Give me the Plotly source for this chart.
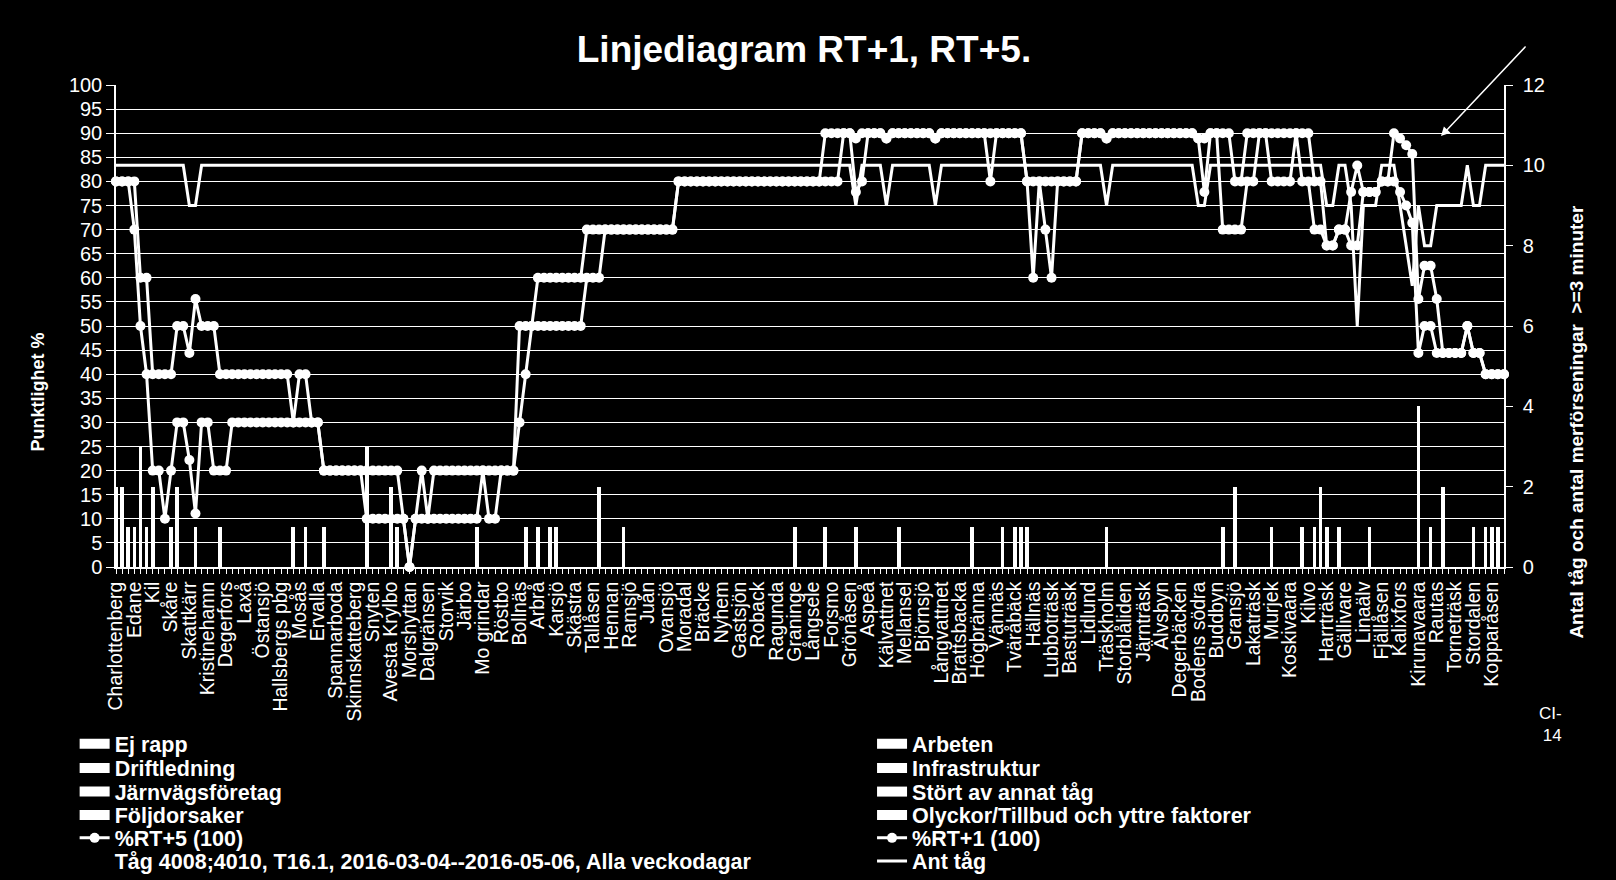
import plotly.graph_objects as go

# Stations shown on the x axis (every third measuring point is labelled)
STATIONS = [
    "Charlottenberg", "Edane", "Kil", "Skåre", "Skattkärr", "Kristinehamn", "Degerfors", "Laxå",
    "Östansjö", "Hallsbergs pbg", "Mosås", "Ervalla", "Spannarboda", "Skinnskatteberg", "Snyten",
    "Avesta Krylbo", "Morshyttan", "Dalgränsen", "Storvik", "Järbo", "Mo grindar", "Röstbo",
    "Bollnäs", "Arbrå", "Karsjö", "Skästra", "Tallåsen", "Hennan", "Ramsjö", "Juån", "Ovansjö",
    "Moradal", "Bräcke", "Nyhem", "Gastsjön", "Roback", "Ragunda", "Graninge", "Långsele",
    "Forsmo", "Grönåsen", "Aspeå", "Kälvattnet", "Mellansel", "Björnsjö", "Långvattnet",
    "Brattsbacka", "Högbränna", "Vännäs", "Tväråbäck", "Hällnäs", "Lubboträsk", "Bastuträsk",
    "Lidlund", "Träskholm", "Storblåliden", "Järnträsk", "Älvsbyn", "Degerbäcken", "Bodens södra",
    "Buddbyn", "Gransjö", "Lakaträsk", "Murjek", "Koskivaara", "Kilvo", "Harrträsk", "Gällivare",
    "Linaälv", "Fjällåsen", "Kalixfors", "Kirunavaara", "Rautas", "Torneträsk", "Stordalen",
    "Kopparåsen",
]
LABEL_STEP = 3

# %RT+5 (100)
RT5 = [
    80, 80, 80, 80, 60, 60, 40, 40, 40, 40,
    50, 50, 44.4, 55.6, 50, 50, 50, 40, 40, 40,
    40, 40, 40, 40, 40, 40, 40, 40, 40, 30,
    40, 40, 30, 30, 20, 20, 20, 20, 20, 20,
    20, 20, 20, 20, 20, 20, 20, 10, 0, 10,
    20, 10, 20, 20, 20, 20, 20, 20, 20, 20,
    20, 20, 20, 20, 20, 20, 50, 50, 50, 60,
    60, 60, 60, 60, 60, 60, 60, 70, 70, 70,
    70, 70, 70, 70, 70, 70, 70, 70, 70, 70,
    70, 70, 80, 80, 80, 80, 80, 80, 80, 80,
    80, 80, 80, 80, 80, 80, 80, 80, 80, 80,
    80, 80, 80, 80, 80, 80, 90, 90, 90, 90,
    90, 88.9, 90, 90, 90, 90, 88.9, 90, 90, 90,
    90, 90, 90, 90, 88.9, 90, 90, 90, 90, 90,
    90, 90, 90, 90, 90, 90, 90, 90, 90, 80,
    80, 80, 80, 80, 80, 80, 80, 80, 90, 90,
    90, 90, 88.9, 90, 90, 90, 90, 90, 90, 90,
    90, 90, 90, 90, 90, 90, 90, 88.9, 88.9, 90,
    90, 90, 90, 80, 80, 90, 90, 90, 90, 90,
    90, 90, 90, 90, 90, 90, 80, 80, 66.7, 66.7,
    70, 70, 77.8, 83.3, 77.8, 77.8, 77.8, 80, 80, 90,
    88.9, 87.5, 85.7, 55.6, 62.5, 62.5, 55.6, 44.4, 44.4, 44.4,
    44.4, 50, 44.4, 44.4, 40, 40, 40, 40,
]

# %RT+1 (100)
RT1 = [
    80, 80, 80, 70, 50, 40, 20, 20, 10, 20,
    30, 30, 22.2, 11.1, 30, 30, 20, 20, 20, 30,
    30, 30, 30, 30, 30, 30, 30, 30, 30, 30,
    30, 30, 30, 30, 20, 20, 20, 20, 20, 20,
    20, 10, 10, 10, 10, 10, 10, 10, 0, 10,
    10, 10, 10, 10, 10, 10, 10, 10, 10, 10,
    20, 10, 10, 20, 20, 20, 30, 40, 50, 50,
    50, 50, 50, 50, 50, 50, 50, 60, 60, 60,
    70, 70, 70, 70, 70, 70, 70, 70, 70, 70,
    70, 70, 80, 80, 80, 80, 80, 80, 80, 80,
    80, 80, 80, 80, 80, 80, 80, 80, 80, 80,
    80, 80, 80, 80, 80, 80, 80, 80, 80, 90,
    90, 77.8, 80, 90, 90, 90, 88.9, 90, 90, 90,
    90, 90, 90, 90, 88.9, 90, 90, 90, 90, 90,
    90, 90, 90, 80, 90, 90, 90, 90, 90, 80,
    60, 80, 70, 60, 80, 80, 80, 80, 90, 90,
    90, 90, 88.9, 90, 90, 90, 90, 90, 90, 90,
    90, 90, 90, 90, 90, 90, 90, 88.9, 77.8, 90,
    90, 70, 70, 70, 70, 80, 80, 90, 90, 80,
    80, 80, 80, 90, 80, 80, 70, 70, 66.7, 66.7,
    70, 70, 66.7, 66.7, 77.8, 77.8, 77.8, 80, 80, 80,
    77.8, 75, 71.4, 44.4, 50, 50, 44.4, 44.4, 44.4, 44.4,
    44.4, 50, 44.4, 44.4, 40, 40, 40, 40,
]

# Ant tåg
ANT_TAG = [
    10, 10, 10, 10, 10, 10, 10, 10, 10, 10,
    10, 10, 9, 9, 10, 10, 10, 10, 10, 10,
    10, 10, 10, 10, 10, 10, 10, 10, 10, 10,
    10, 10, 10, 10, 10, 10, 10, 10, 10, 10,
    10, 10, 10, 10, 10, 10, 10, 10, 10, 10,
    10, 10, 10, 10, 10, 10, 10, 10, 10, 10,
    10, 10, 10, 10, 10, 10, 10, 10, 10, 10,
    10, 10, 10, 10, 10, 10, 10, 10, 10, 10,
    10, 10, 10, 10, 10, 10, 10, 10, 10, 10,
    10, 10, 10, 10, 10, 10, 10, 10, 10, 10,
    10, 10, 10, 10, 10, 10, 10, 10, 10, 10,
    10, 10, 10, 10, 10, 10, 10, 10, 10, 10,
    10, 9, 10, 10, 10, 10, 9, 10, 10, 10,
    10, 10, 10, 10, 9, 10, 10, 10, 10, 10,
    10, 10, 10, 10, 10, 10, 10, 10, 10, 10,
    10, 10, 10, 10, 10, 10, 10, 10, 10, 10,
    10, 10, 9, 10, 10, 10, 10, 10, 10, 10,
    10, 10, 10, 10, 10, 10, 10, 9, 9, 10,
    10, 10, 10, 10, 10, 10, 10, 10, 10, 10,
    10, 10, 10, 10, 10, 10, 10, 10, 9, 9,
    10, 10, 9, 6, 9, 9, 9, 10, 10, 10,
    9, 8, 7, 9, 8, 8, 9, 9, 9, 9,
    9, 10, 9, 9, 10, 10, 10, 10,
]

# Antal merförseningar >=3 minuter per orsak (all drawn white in the original)
JARNVAGSFORETAG = [
    1, 1, 1, 1, 1, 1, 1, 0, 0, 1,
    1, 0, 0, 1, 0, 0, 0, 1, 0, 0,
    0, 0, 0, 0, 0, 0, 0, 0, 0, 1,
    0, 1, 0, 0, 1, 0, 0, 0, 0, 0,
    0, 1, 0, 0, 0, 1, 1, 0, 0, 0,
    0, 0, 0, 0, 0, 0, 0, 0, 0, 1,
    0, 0, 0, 0, 0, 0, 0, 1, 0, 1,
    0, 1, 1, 0, 0, 0, 0, 0, 0, 1,
    0, 0, 0, 1, 0, 0, 0, 0, 0, 0,
    0, 0, 0, 0, 0, 0, 0, 0, 0, 0,
    0, 0, 0, 0, 0, 0, 0, 0, 0, 0,
    0, 1, 0, 0, 0, 0, 1, 0, 0, 0,
    0, 1, 0, 0, 0, 0, 0, 0, 1, 0,
    0, 0, 0, 0, 0, 0, 0, 0, 0, 0,
    1, 0, 0, 0, 0, 1, 0, 1, 1, 1,
    0, 0, 0, 0, 0, 0, 0, 0, 0, 0,
    0, 0, 1, 0, 0, 0, 0, 0, 0, 0,
    0, 0, 0, 0, 0, 0, 0, 0, 0, 0,
    0, 1, 0, 1, 0, 0, 0, 0, 0, 1,
    0, 0, 0, 0, 1, 0, 1, 1, 1, 0,
    1, 0, 0, 0, 0, 1, 0, 0, 0, 0,
    0, 0, 0, 1, 0, 1, 0, 1, 0, 0,
    0, 0, 1, 0, 1, 1, 1, 0,
]
FOLJDORSAKER = [
    1, 1, 0, 0, 1, 0, 1, 0, 0, 0,
    1, 0, 0, 0, 0, 0, 0, 0, 0, 0,
    0, 0, 0, 0, 0, 0, 0, 0, 0, 0,
    0, 0, 0, 0, 0, 0, 0, 0, 0, 0,
    0, 1, 0, 0, 0, 1, 0, 0, 0, 0,
    0, 0, 0, 0, 0, 0, 0, 0, 0, 0,
    0, 0, 0, 0, 0, 0, 0, 0, 0, 0,
    0, 0, 0, 0, 0, 0, 0, 0, 0, 1,
    0, 0, 0, 0, 0, 0, 0, 0, 0, 0,
    0, 0, 0, 0, 0, 0, 0, 0, 0, 0,
    0, 0, 0, 0, 0, 0, 0, 0, 0, 0,
    0, 0, 0, 0, 0, 0, 0, 0, 0, 0,
    0, 0, 0, 0, 0, 0, 0, 0, 0, 0,
    0, 0, 0, 0, 0, 0, 0, 0, 0, 0,
    0, 0, 0, 0, 0, 0, 0, 0, 0, 0,
    0, 0, 0, 0, 0, 0, 0, 0, 0, 0,
    0, 0, 0, 0, 0, 0, 0, 0, 0, 0,
    0, 0, 0, 0, 0, 0, 0, 0, 0, 0,
    0, 0, 0, 1, 0, 0, 0, 0, 0, 0,
    0, 0, 0, 0, 0, 0, 0, 1, 0, 0,
    0, 0, 0, 0, 0, 0, 0, 0, 0, 0,
    0, 0, 0, 2, 0, 0, 0, 1, 0, 0,
    0, 0, 0, 0, 0, 0, 0, 0,
]
INFRASTRUKTUR = [
    0, 0, 0, 0, 1, 0, 0, 0, 0, 0,
    0, 0, 0, 0, 0, 0, 0, 0, 0, 0,
    0, 0, 0, 0, 0, 0, 0, 0, 0, 0,
    0, 0, 0, 0, 0, 0, 0, 0, 0, 0,
    0, 1, 0, 0, 0, 0, 0, 0, 0, 0,
    0, 0, 0, 0, 0, 0, 0, 0, 0, 0,
    0, 0, 0, 0, 0, 0, 0, 0, 0, 0,
    0, 0, 0, 0, 0, 0, 0, 0, 0, 0,
    0, 0, 0, 0, 0, 0, 0, 0, 0, 0,
    0, 0, 0, 0, 0, 0, 0, 0, 0, 0,
    0, 0, 0, 0, 0, 0, 0, 0, 0, 0,
    0, 0, 0, 0, 0, 0, 0, 0, 0, 0,
    0, 0, 0, 0, 0, 0, 0, 0, 0, 0,
    0, 0, 0, 0, 0, 0, 0, 0, 0, 0,
    0, 0, 0, 0, 0, 0, 0, 0, 0, 0,
    0, 0, 0, 0, 0, 0, 0, 0, 0, 0,
    0, 0, 0, 0, 0, 0, 0, 0, 0, 0,
    0, 0, 0, 0, 0, 0, 0, 0, 0, 0,
    0, 0, 0, 0, 0, 0, 0, 0, 0, 0,
    0, 0, 0, 0, 0, 0, 0, 0, 0, 0,
    0, 0, 0, 0, 0, 0, 0, 0, 0, 0,
    0, 0, 0, 1, 0, 0, 0, 0, 0, 0,
    0, 0, 0, 0, 0, 0, 0, 0,
]
N = len(ANT_TAG)
EJ_RAPP = [0] * N
DRIFTLEDNING = [0] * N
ARBETEN = [0] * N
STORT_AV_ANNAT_TAG = [0] * N
OLYCKOR = [0] * N

INFO_TEXT = "Tåg 4008;4010, T16.1, 2016-03-04--2016-05-06, Alla veckodagar"

x = list(range(N))
FONT = "Liberation Sans, Arial, sans-serif"
NARROW = "Liberation Sans Narrow, Arial Narrow, Liberation Sans, sans-serif"

# legend slots: left column legend..legend6, right column legend7..legend12
LEFT = ["legend", "legend2", "legend3", "legend4", "legend5", "legend6"]
RIGHT = ["legend7", "legend8", "legend9", "legend10", "legend11", "legend12"]

fig = go.Figure()

cause_series = [
    ("Ej rapp", EJ_RAPP, LEFT[0]),
    ("Driftledning", DRIFTLEDNING, LEFT[1]),
    ("Järnvägsföretag", JARNVAGSFORETAG, LEFT[2]),
    ("Följdorsaker", FOLJDORSAKER, LEFT[3]),
    ("Arbeten", ARBETEN, RIGHT[0]),
    ("Infrastruktur", INFRASTRUKTUR, RIGHT[1]),
    ("Stört av annat tåg", STORT_AV_ANNAT_TAG, RIGHT[2]),
    ("Olyckor/Tillbud och yttre faktorer", OLYCKOR, RIGHT[3]),
]

# stacked bars on the right axis
for name, values, _ in cause_series:
    fig.add_trace(go.Bar(x=x, y=values, name=name, yaxis="y2", width=0.6,
                         marker=dict(color="white", line=dict(width=0)), showlegend=False))

# legend swatches for the bars (wide white blocks like the original)
for name, _, leg in cause_series:
    fig.add_trace(go.Scatter(x=[None], y=[None], mode="lines", name=name, legend=leg,
                             line=dict(color="white", width=10)))

fig.add_trace(go.Scatter(x=x, y=RT5, name="%RT+5 (100)", mode="lines+markers", legend=LEFT[4],
                         line=dict(color="white", width=3), marker=dict(color="white", size=10),
                         cliponaxis=False))
fig.add_trace(go.Scatter(x=x, y=RT1, name="%RT+1 (100)", mode="lines+markers", legend=RIGHT[4],
                         line=dict(color="white", width=3), marker=dict(color="white", size=10),
                         cliponaxis=False))
fig.add_trace(go.Scatter(x=[None], y=[None], mode="lines", name=INFO_TEXT, legend=LEFT[5],
                         line=dict(color="rgba(0,0,0,0)", width=0)))
fig.add_trace(go.Scatter(x=x, y=ANT_TAG, name="Ant tåg", mode="lines", yaxis="y2", legend=RIGHT[5],
                         line=dict(color="white", width=3), cliponaxis=False))

ROW_Y = [-0.367, -0.417, -0.466, -0.5145, -0.562, -0.610]
legends = {}
for col_x, names in ((-0.0298, LEFT), (0.5447, RIGHT)):
    for row_y, leg in zip(ROW_Y, names):
        legends[leg] = dict(
            x=col_x, y=row_y, xanchor="left", yanchor="middle", bgcolor="rgba(0,0,0,0)",
            font=dict(family=NARROW, size=21.5, color="white", weight="bold"),
            itemwidth=30, traceorder="normal",
        )

fig.update_layout(
    width=1616, height=880,
    paper_bgcolor="black", plot_bgcolor="black",
    margin=dict(l=116, r=112, t=85, b=313, autoexpand=False),
    barmode="stack", bargap=0.4,
    font=dict(family=FONT, color="white"),
    title=dict(text="<b>Linjediagram RT+1, RT+5.</b>", font=dict(size=37, color="white"),
               x=0.4975, xref="container", xanchor="center", y=0.944, yanchor="middle"),
    xaxis=dict(range=[0, N - 1], tickmode="array",
               tickvals=list(range(0, N, LABEL_STEP))[:len(STATIONS)], ticktext=STATIONS,
               tickangle=-90, tickfont=dict(size=19.5, color="white"),
               ticks="outside", ticklen=5, tickcolor="white",
               minor=dict(dtick=1, tick0=0, ticks="outside", ticklen=5, tickcolor="white", showgrid=False),
               showline=True, linecolor="white", linewidth=1.5, showgrid=False, zeroline=False),
    yaxis=dict(range=[0, 100], dtick=5, tickfont=dict(size=20, color="white"),
               ticks="outside", ticklen=8, tickcolor="white",
               showline=True, linecolor="white", linewidth=1.5,
               showgrid=True, gridcolor="white", gridwidth=1, zeroline=False),
    yaxis2=dict(range=[0, 12], dtick=2, overlaying="y", side="right",
                tickfont=dict(size=20, color="white"),
                ticks="outside", ticklen=7, tickcolor="white", ticklabelstandoff=6,
                showline=True, linecolor="white", linewidth=1.5, showgrid=False, zeroline=False),
    annotations=[
        dict(x=-0.0562, y=0.364, xref="paper", yref="paper", text="<b>Punktlighet %</b>",
             textangle=-90, showarrow=False, xanchor="center", yanchor="middle",
             font=dict(size=18, color="white")),
        dict(x=1.0526, y=0.2996, xref="paper", yref="paper",
             text="<b>Antal tåg och antal merförseningar  >=3 minuter</b>",
             textangle=-90, showarrow=False, xanchor="center", yanchor="middle",
             font=dict(size=19, color="white")),
        dict(x=0.9546, y=0.894, xref="paper", yref="paper", text="", showarrow=True,
             ax=86, ay=-91, arrowhead=2, arrowsize=1.2, arrowwidth=1.5, arrowcolor="white"),
        dict(x=1.043, y=-0.326, xref="paper", yref="paper", text="CI-<br>14", showarrow=False,
             xanchor="right", yanchor="middle", align="right", font=dict(size=17, color="white")),
    ],
    **legends,
)

fig.write_html("out.html", config={"displayModeBar": False},
               post_script="document.body.style.margin='0';document.body.style.background='black';")
